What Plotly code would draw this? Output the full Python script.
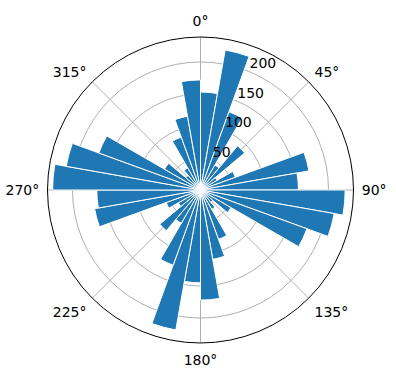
import plotly.graph_objects as go

# bin centers (degrees, clockwise from north)
directions = [5, 15, 25, 35, 45, 55, 65, 75, 85,
              95, 105, 115, 125, 135, 145, 155, 165, 175,
              185, 195, 205, 215, 225, 235, 245, 255, 265,
              275, 285, 295, 305, 315, 325, 335, 345, 355]
counts = [153, 222, 130, 45, 90, 30, 58, 172, 153,
          226, 212, 177, 55, 25, 35, 82, 110, 172,
          145, 222, 125, 60, 83, 40, 57, 168, 162,
          231, 213, 169, 65, 30, 40, 88, 117, 172]
bin_width = 10
radial_ticks = [50, 100, 150, 200]
radial_labels = ["50", "100", "150", "200"]
radial_label_angle = 22.5
angle_ticks = [0, 45, 90, 135, 180, 225, 270, 315]
angle_labels = ["0°", "45°", "90°", "135°", "180°", "225°", "270°", "315°"]

fig = go.Figure()
fig.add_trace(go.Barpolar(
    r=counts, theta=directions, width=[bin_width] * len(directions),
    marker=dict(color="#1f77b4", line=dict(color="white", width=1)),
    opacity=1, hoverinfo="skip",
))
# radial tick labels placed through the polar scale
fig.add_trace(go.Scatterpolar(
    r=radial_ticks, theta=[radial_label_angle] * len(radial_ticks),
    text=radial_labels, mode="text", textposition="top right",
    textfont=dict(family="DejaVu Sans", size=14, color="black"),
    hoverinfo="skip", cliponaxis=False,
))

W, H = 396, 380
cx, cy, R = 200.5, 190, 153
fig.update_layout(
    width=W, height=H,
    margin=dict(l=0, r=0, t=0, b=0),
    paper_bgcolor="white",
    showlegend=False,
    font=dict(family="DejaVu Sans", size=14, color="black"),
    polar=dict(
        domain=dict(x=[(cx - R) / W, (cx + R) / W],
                    y=[(H - cy - R) / H, (H - cy + R) / H]),
        bgcolor="white",
        bargap=0,
        angularaxis=dict(
            rotation=90, direction="clockwise",
            tickmode="array", tickvals=angle_ticks, ticktext=angle_labels,
            showgrid=True, gridcolor="#b0b0b0", gridwidth=1,
            showline=True, linecolor="black", linewidth=1,
            ticks="outside", ticklen=5, tickcolor="rgba(0,0,0,0)",
            tickfont=dict(size=14),
        ),
        radialaxis=dict(
            range=[0, 239], angle=67.5,
            tickmode="array", tickvals=radial_ticks,
            showticklabels=False,
            showgrid=True, gridcolor="#b0b0b0", gridwidth=1,
            showline=False, ticks="",
        ),
    ),
)
fig.write_html("out.html")
